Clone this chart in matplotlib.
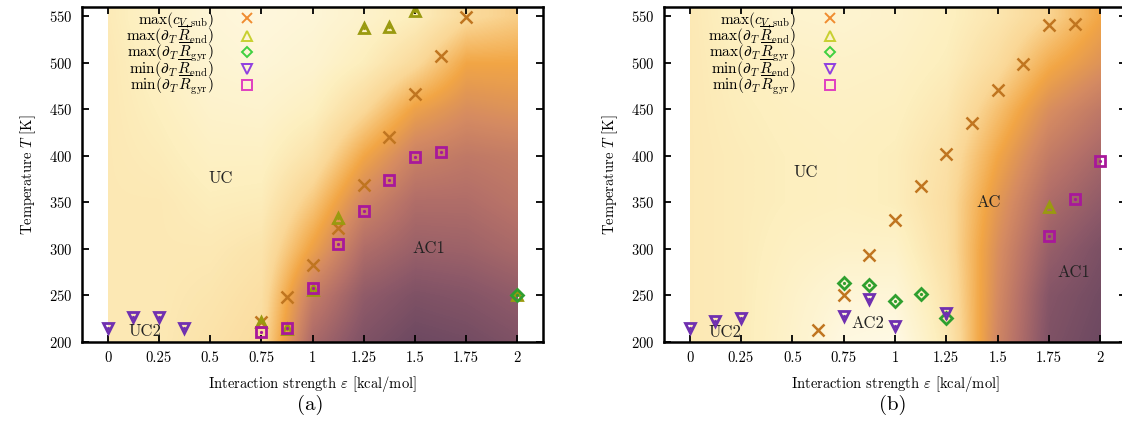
import numpy as np
import matplotlib
matplotlib.use("Agg")
from matplotlib import pyplot as plt
from matplotlib.colors import LinearSegmentedColormap
from matplotlib.lines import Line2D
from matplotlib.patches import Rectangle

plt.rcParams['font.family'] = ['cmr10', 'DejaVu Serif']
plt.rcParams['mathtext.fontset'] = 'cm'
plt.rcParams['axes.formatter.use_mathtext'] = True

# rejilla del fondo (nivel 0 = crema, 1 = morado oscuro)
grid_eps = [0, 0.25, 0.5, 0.75, 1.0, 1.25, 1.5, 1.75, 2.0]
grid_T = [200, 250, 300, 350, 400, 450, 500, 550]

bg_a = [
    [0.24, 0.24, 0.28, 0.32, 0.78, 0.92, 0.98, 0.96, 0.92],  # 200
    [0.24, 0.24, 0.26, 0.30, 0.68, 0.86, 0.92, 0.90, 0.86],  # 250
    [0.24, 0.24, 0.24, 0.27, 0.52, 0.76, 0.83, 0.82, 0.78],  # 300
    [0.24, 0.24, 0.21, 0.22, 0.40, 0.64, 0.76, 0.76, 0.72],  # 350
    [0.24, 0.22, 0.18, 0.18, 0.28, 0.50, 0.66, 0.70, 0.68],  # 400
    [0.24, 0.20, 0.15, 0.14, 0.19, 0.34, 0.52, 0.60, 0.58],  # 450
    [0.24, 0.18, 0.12, 0.10, 0.13, 0.21, 0.33, 0.50, 0.50],  # 500
    [0.23, 0.16, 0.10, 0.08, 0.10, 0.15, 0.21, 0.33, 0.38],  # 550
]

bg_b = [
    [0.24, 0.22, 0.15, 0.06, 0.04, 0.24, 0.64, 0.92, 0.98],
    [0.24, 0.22, 0.16, 0.10, 0.10, 0.27, 0.62, 0.90, 0.96],
    [0.24, 0.22, 0.18, 0.16, 0.16, 0.30, 0.60, 0.84, 0.93],
    [0.24, 0.22, 0.20, 0.19, 0.21, 0.31, 0.56, 0.77, 0.86],
    [0.24, 0.22, 0.20, 0.19, 0.21, 0.29, 0.50, 0.69, 0.79],
    [0.24, 0.21, 0.19, 0.18, 0.19, 0.25, 0.42, 0.60, 0.70],
    [0.24, 0.20, 0.17, 0.16, 0.17, 0.21, 0.32, 0.48, 0.58],
    [0.24, 0.18, 0.14, 0.13, 0.15, 0.19, 0.26, 0.36, 0.50],
]

# (a) puntos
cv_eps_a = [0.75, 0.875, 1.0, 1.125, 1.25, 1.375, 1.5, 1.625, 1.75]
cv_T_a = [221, 248, 283, 323, 369, 420, 467, 507, 549]
rend_max_eps_a = [0.75, 0.875, 1.0, 1.125, 1.25, 1.375, 1.5, 2.0]
rend_max_T_a = [222, 214, 256, 333, 537, 538, 556, 251]
rgyr_max_eps_a = [2.0]
rgyr_max_T_a = [250]
rend_min_eps_a = [0, 0.125, 0.25, 0.375]
rend_min_T_a = [215, 227, 227, 215]
rgyr_min_eps_a = [0.75, 0.875, 1.0, 1.125, 1.25, 1.375, 1.5, 1.625]
rgyr_min_T_a = [211, 215, 258, 305, 341, 374, 399, 404]

# (b) puntos
cv_eps_b = [0.625, 0.75, 0.875, 1.0, 1.125, 1.25, 1.375, 1.5, 1.625, 1.75, 1.875]
cv_T_b = [213, 250, 293, 331, 368, 402, 435, 471, 499, 541, 542]
rend_max_eps_b = [1.75]
rend_max_T_b = [345]
rgyr_max_eps_b = [0.75, 0.875, 1.0, 1.125, 1.25]
rgyr_max_T_b = [263, 261, 244, 252, 226]
rend_min_eps_b = [0, 0.125, 0.25, 0.75, 0.875, 1.0, 1.25]
rend_min_T_b = [215, 223, 226, 228, 246, 217, 231]
rgyr_min_eps_b = [1.75, 1.875, 2.0]
rgyr_min_T_b = [314, 354, 394]

labels_a = [("UC", 0.55, 376), ("AC1", 1.57, 301), ("UC2", 0.18, 211)]
labels_b = [("UC", 0.565, 382), ("AC", 1.455, 350), ("AC1", 1.87, 275),
            ("AC2", 0.87, 220), ("UC2", 0.17, 210)]

xticks = [0, 0.25, 0.5, 0.75, 1, 1.25, 1.5, 1.75, 2]
xticklabels = ["0", "0.25", "0.5", "0.75", "1", "1.25", "1.5", "1.75", "2"]
yticks = [200, 250, 300, 350, 400, 450, 500, 550]

leyenda = [r'$\max(c_{V,\mathrm{sub}})$',
           r'$\max(\partial_T\,\overline{R}_{\mathrm{end}})$',
           r'$\max(\partial_T\,\overline{R}_{\mathrm{gyr}})$',
           r'$\min(\partial_T\,\overline{R}_{\mathrm{end}})$',
           r'$\min(\partial_T\,\overline{R}_{\mathrm{gyr}})$']

cmap = LinearSegmentedColormap.from_list("fondo", [
    (0.0, '#fffcef'), (0.2, '#fdefbf'), (0.35, '#fad796'), (0.5, '#f2a645'),
    (0.62, '#d48a62'), (0.75, '#b36f69'), (0.88, '#8b5868'), (1.0, '#674660')])

# estilos: (marcador, color en la grafica, color en la leyenda)
estilos = [('x', '#c07520', '#f08c30'),
           ('^', '#9a9a10', '#c8d030'),
           ('D', '#2f9f2f', '#40d040'),
           ('v', '#7030b0', '#9040e0'),
           ('s', '#a8189a', '#e040c0')]

fig = plt.figure(figsize=(11.22, 4.26), dpi=100)
ax_a = fig.add_axes([82/1122, 84/426, 461/1122, 335/426])
ax_b = fig.add_axes([664/1122, 84/426, 462/1122, 335/426])


def dibujar(ax, fondo, series, etiquetas, letra):
    de = 0.125
    dT = 25
    im = ax.imshow(np.array(fondo), origin='lower', cmap=cmap, vmin=0, vmax=1,
                   extent=(grid_eps[0] - de, grid_eps[-1] + de, grid_T[0] - dT, grid_T[-1] + dT),
                   aspect='auto', interpolation='bilinear', interpolation_stage='data')
    im.set_clip_path(Rectangle((0, 200), 2, 360, transform=ax.transData))

    for (eps, T), (m, c, _) in zip(series, estilos):
        if m == 'x':
            ax.plot(eps, T, ls='none', marker='x', color=c, ms=8, mew=1.8)
        else:
            ax.plot(eps, T, ls='none', marker=m, mfc='none', mec=c,
                    ms=7.5 if m != 'D' else 6, mew=2.0)
            ax.plot(eps, T, ls='none', marker='o', color=c, ms=1.3)

    for txt, x, y in etiquetas:
        ax.text(x, y, txt, fontsize=12, ha='center', va='center', color='#222222')

    ax.set_xlim(-0.125, 2.125)
    ax.set_ylim(200, 560)
    ax.set_xticks(xticks)
    ax.set_xticklabels(xticklabels)
    ax.set_yticks(yticks)
    ax.tick_params(direction='in', top=True, right=True, length=5, width=1.3,
                   labelsize=10.5, pad=7)
    for s in ax.spines.values():
        s.set_linewidth(1.8)
    ax.set_xlabel(r'Interaction strength $\varepsilon$ [kcal/mol]', fontsize=10.5, labelpad=6)
    ax.set_ylabel(r'Temperature $T$ [K]', fontsize=10.5, labelpad=8)

    handles = []
    for m, _, cl in estilos:
        handles.append(Line2D([], [], ls='none', marker=m, mfc='none', mec=cl, color=cl,
                              ms=7 if m != 'D' else 5.5, mew=1.4))
    ax.legend(handles, leyenda, loc='upper right', bbox_to_anchor=(0.375, 0.99),
              frameon=False, markerfirst=False, fontsize=11, handlelength=1.0,
              handletextpad=1.7, labelspacing=-0.42, borderpad=0.0, borderaxespad=0)

    pos = ax.get_position()
    fig.text(pos.x0 + pos.width * 0.5 - 0.002, 21/426, letra, fontsize=15,
             ha='center', va='center')


dibujar(ax_a, bg_a,
        [(cv_eps_a, cv_T_a), (rend_max_eps_a, rend_max_T_a), (rgyr_max_eps_a, rgyr_max_T_a),
         (rend_min_eps_a, rend_min_T_a), (rgyr_min_eps_a, rgyr_min_T_a)],
        labels_a, "(a)")
dibujar(ax_b, bg_b,
        [(cv_eps_b, cv_T_b), (rend_max_eps_b, rend_max_T_b), (rgyr_max_eps_b, rgyr_max_T_b),
         (rend_min_eps_b, rend_min_T_b), (rgyr_min_eps_b, rgyr_min_T_b)],
        labels_b, "(b)")

fig.savefig("out.png", dpi=100)
